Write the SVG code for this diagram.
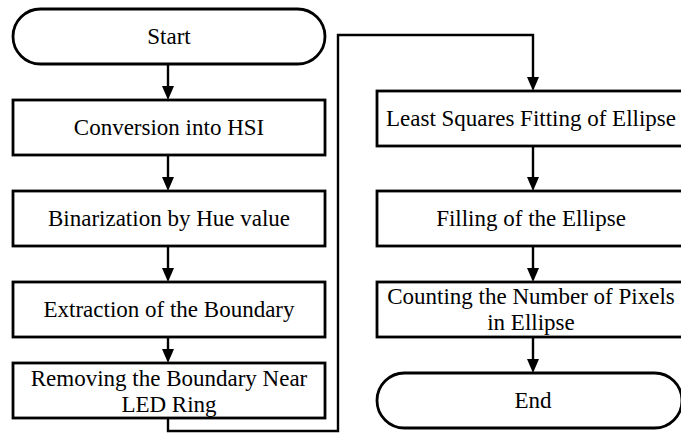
<svg xmlns="http://www.w3.org/2000/svg" width="681" height="433" viewBox="0 0 681 433">
<style>
.box{fill:#fff;stroke:#000;stroke-width:2.8}
.t{font-family:"Liberation Serif","Times New Roman",serif;font-size:23px;fill:#000;text-anchor:middle}
.c{fill:none;stroke:#000;stroke-width:2.4}
</style>
<g id="start"><rect class="box" x="13" y="9" width="312" height="55" rx="27.5" ry="27.5"/><text class="t" x="169" y="44">Start</text></g>
<g id="conv"><rect class="box" x="13" y="100" width="312" height="55"/><text class="t" x="169" y="135">Conversion into HSI</text></g>
<g id="bin"><rect class="box" x="13" y="191" width="312" height="55"/><text class="t" x="169" y="226">Binarization by Hue value</text></g>
<g id="ext"><rect class="box" x="13" y="282" width="312" height="55"/><text class="t" x="169" y="317">Extraction of the Boundary</text></g>
<g id="rem"><rect class="box" x="13" y="363" width="312" height="55"/><text class="t" x="169" y="386">Removing the Boundary Near</text><text class="t" x="169" y="412">LED Ring</text></g>
<g id="lsf"><rect class="box" x="377" y="91" width="312" height="55"/><text class="t" x="531" y="126">Least Squares Fitting of Ellipse</text></g>
<g id="fill"><rect class="box" x="377" y="191" width="312" height="55"/><text class="t" x="531" y="226">Filling of the Ellipse</text></g>
<g id="count"><rect class="box" x="377" y="282" width="312" height="55"/><text class="t" x="531" y="304">Counting the Number of Pixels</text><text class="t" x="531" y="330">in Ellipse</text></g>
<g id="end"><rect class="box" x="377" y="373" width="305" height="55" rx="27.5" ry="27.5"/><text class="t" x="533" y="408">End</text></g>
<g id="connectors">
<path class="c" d="M168,64 V86" />
<path d="M162,86 H174 L168,100 Z"/>
<path class="c" d="M168,155 V177" />
<path d="M162,177 H174 L168,191 Z"/>
<path class="c" d="M168,246 V268" />
<path d="M162,268 H174 L168,282 Z"/>
<path class="c" d="M168,337 V349" />
<path d="M162,349 H174 L168,363 Z"/>
<path class="c" d="M168,418 V431 H338 V35 H533 V77" />
<path d="M527,77 H539 L533,91 Z"/>
<path class="c" d="M533,146 V177" />
<path d="M527,177 H539 L533,191 Z"/>
<path class="c" d="M533,246 V268" />
<path d="M527,268 H539 L533,282 Z"/>
<path class="c" d="M533,337 V359" />
<path d="M527,359 H539 L533,373 Z"/>
</g>
</svg>
